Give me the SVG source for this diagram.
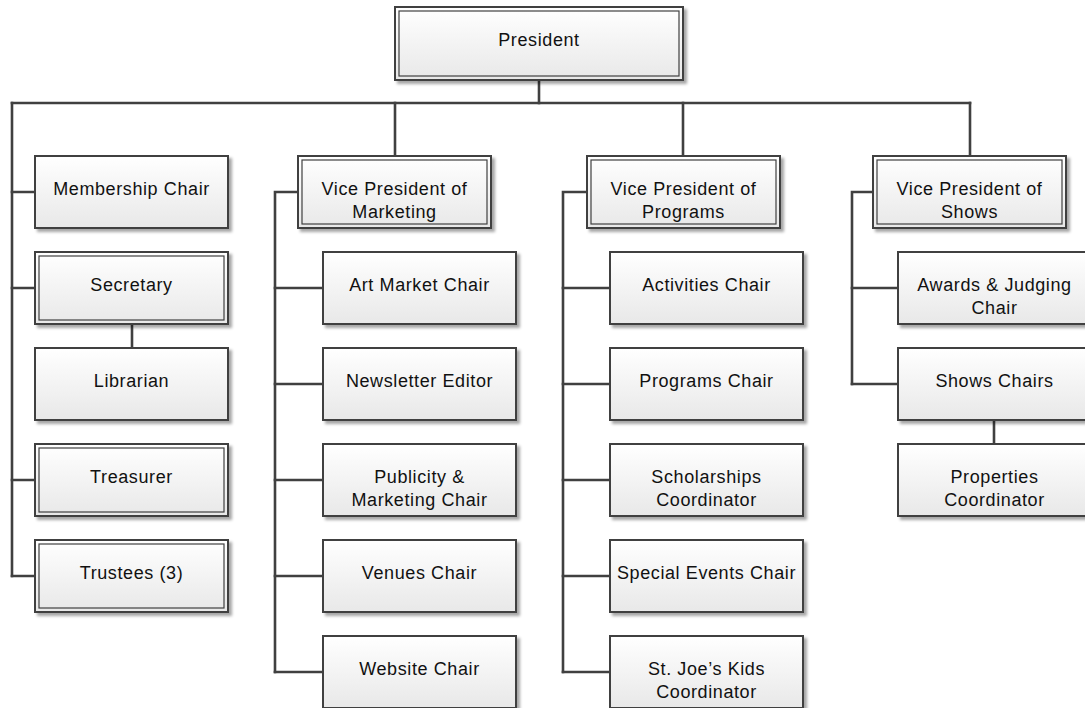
<svg xmlns="http://www.w3.org/2000/svg" width="1085" height="708" viewBox="0 0 1085 708">
  <defs>
    <linearGradient id="boxFill" x1="0" y1="0" x2="0" y2="1">
      <stop offset="0" stop-color="#ffffff"/>
      <stop offset="1" stop-color="#e8e8e8"/>
    </linearGradient>
    <filter id="shadow" x="-5%" y="-10%" width="115%" height="130%">
      <feDropShadow dx="3" dy="3" stdDeviation="1.6" flood-color="#000000" flood-opacity="0.35"/>
    </filter>
  </defs>
  <style>
    .box { fill: url(#boxFill); stroke: #404040; stroke-width: 2; filter: url(#shadow); }
    .inner { fill: none; stroke: #404040; stroke-width: 1.2; }
    .lbl { font-family: "Liberation Sans", Arial, sans-serif; font-size: 18px; letter-spacing: 0.6px; fill: #111111; text-anchor: middle; }
    .conn { fill: none; stroke: #404040; stroke-width: 2.6; stroke-linejoin: miter; stroke-linecap: square; }
  </style>
  <rect width="1085" height="708" fill="#ffffff"/>

  <!-- connectors -->
  <g id="connectors" class="conn">
    <!-- president to top bus -->
    <path d="M539 80 V103"/>
    <path d="M12 103 H970"/>
    <!-- officers column -->
    <path d="M12 103 V576"/>
    <path d="M12 192 H35 M12 288 H35 M12 480 H35 M12 576 H35"/>
    <path d="M132 324 V348"/>
    <!-- marketing -->
    <path d="M395 103 V156"/>
    <path d="M298 192 H275 V672"/>
    <path d="M275 288 H323 M275 384 H323 M275 480 H323 M275 576 H323 M275 672 H323"/>
    <!-- programs -->
    <path d="M683 103 V156"/>
    <path d="M587 192 H563 V672"/>
    <path d="M563 288 H610 M563 384 H610 M563 480 H610 M563 576 H610 M563 672 H610"/>
    <!-- shows -->
    <path d="M970 103 V156"/>
    <path d="M873 192 H852 V384"/>
    <path d="M852 288 H898 M852 384 H898"/>
    <path d="M994 420 V444"/>
  </g>

  <!-- President -->
  <g id="president">
    <rect class="box" x="395" y="7" width="288" height="73"/>
    <rect class="inner" x="399" y="11" width="280" height="65"/>
    <text class="lbl" x="539" y="46">President</text>
  </g>

  <!-- officers -->
  <g id="membership-chair">
    <rect class="box" x="35" y="156" width="193" height="72"/>
    <text class="lbl" x="131.5" y="195">Membership Chair</text>
  </g>
  <g id="secretary">
    <rect class="box" x="35" y="252" width="193" height="72"/>
    <rect class="inner" x="39" y="256" width="185" height="64"/>
    <text class="lbl" x="131.5" y="291">Secretary</text>
  </g>
  <g id="librarian">
    <rect class="box" x="35" y="348" width="193" height="72"/>
    <text class="lbl" x="131.5" y="387">Librarian</text>
  </g>
  <g id="treasurer">
    <rect class="box" x="35" y="444" width="193" height="72"/>
    <rect class="inner" x="39" y="448" width="185" height="64"/>
    <text class="lbl" x="131.5" y="483">Treasurer</text>
  </g>
  <g id="trustees">
    <rect class="box" x="35" y="540" width="193" height="72"/>
    <rect class="inner" x="39" y="544" width="185" height="64"/>
    <text class="lbl" x="131.5" y="579">Trustees (3)</text>
  </g>

  <!-- marketing -->
  <g id="vp-marketing">
    <rect class="box" x="298" y="156" width="193" height="72"/>
    <rect class="inner" x="302" y="160" width="185" height="64"/>
    <text class="lbl" x="394.5" y="195">Vice President of</text>
    <text class="lbl" x="394.5" y="218">Marketing</text>
  </g>
  <g id="art-market-chair">
    <rect class="box" x="323" y="252" width="193" height="72"/>
    <text class="lbl" x="419.5" y="291">Art Market Chair</text>
  </g>
  <g id="newsletter-editor">
    <rect class="box" x="323" y="348" width="193" height="72"/>
    <text class="lbl" x="419.5" y="387">Newsletter Editor</text>
  </g>
  <g id="publicity-marketing-chair">
    <rect class="box" x="323" y="444" width="193" height="72"/>
    <text class="lbl" x="419.5" y="483">Publicity &amp;</text>
    <text class="lbl" x="419.5" y="506">Marketing Chair</text>
  </g>
  <g id="venues-chair">
    <rect class="box" x="323" y="540" width="193" height="72"/>
    <text class="lbl" x="419.5" y="579">Venues Chair</text>
  </g>
  <g id="website-chair">
    <rect class="box" x="323" y="636" width="193" height="72"/>
    <text class="lbl" x="419.5" y="675">Website Chair</text>
  </g>

  <!-- programs -->
  <g id="vp-programs">
    <rect class="box" x="587" y="156" width="193" height="72"/>
    <rect class="inner" x="591" y="160" width="185" height="64"/>
    <text class="lbl" x="683.5" y="195">Vice President of</text>
    <text class="lbl" x="683.5" y="218">Programs</text>
  </g>
  <g id="activities-chair">
    <rect class="box" x="610" y="252" width="193" height="72"/>
    <text class="lbl" x="706.5" y="291">Activities Chair</text>
  </g>
  <g id="programs-chair">
    <rect class="box" x="610" y="348" width="193" height="72"/>
    <text class="lbl" x="706.5" y="387">Programs Chair</text>
  </g>
  <g id="scholarships-coordinator">
    <rect class="box" x="610" y="444" width="193" height="72"/>
    <text class="lbl" x="706.5" y="483">Scholarships</text>
    <text class="lbl" x="706.5" y="506">Coordinator</text>
  </g>
  <g id="special-events-chair">
    <rect class="box" x="610" y="540" width="193" height="72"/>
    <text class="lbl" x="706.5" y="579">Special Events Chair</text>
  </g>
  <g id="kids-coordinator">
    <rect class="box" x="610" y="636" width="193" height="72"/>
    <text class="lbl" x="706.5" y="675">St. Joe’s Kids</text>
    <text class="lbl" x="706.5" y="698">Coordinator</text>
  </g>

  <!-- shows -->
  <g id="vp-shows">
    <rect class="box" x="873" y="156" width="193" height="72"/>
    <rect class="inner" x="877" y="160" width="185" height="64"/>
    <text class="lbl" x="969.5" y="195">Vice President of</text>
    <text class="lbl" x="969.5" y="218">Shows</text>
  </g>
  <g id="awards-judging-chair">
    <rect class="box" x="898" y="252" width="193" height="72"/>
    <text class="lbl" x="994.5" y="291">Awards &amp; Judging</text>
    <text class="lbl" x="994.5" y="314">Chair</text>
  </g>
  <g id="shows-chairs">
    <rect class="box" x="898" y="348" width="193" height="72"/>
    <text class="lbl" x="994.5" y="387">Shows Chairs</text>
  </g>
  <g id="properties-coordinator">
    <rect class="box" x="898" y="444" width="193" height="72"/>
    <text class="lbl" x="994.5" y="483">Properties</text>
    <text class="lbl" x="994.5" y="506">Coordinator</text>
  </g>
</svg>
